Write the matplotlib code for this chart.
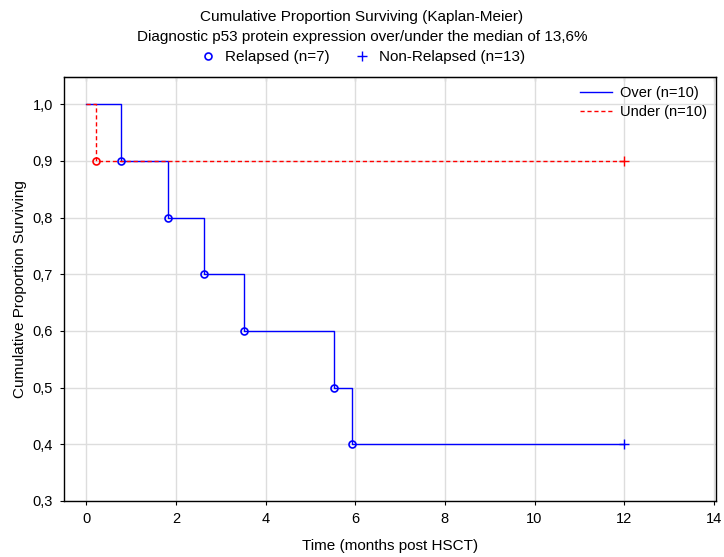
import matplotlib.pyplot as plt
from matplotlib.lines import Line2D
from matplotlib.ticker import FuncFormatter

plt.rcParams["font.family"] = ["Liberation Sans", "DejaVu Sans"]

# Kaplan-Meier step data
over_t = [0, 0.78, 1.83, 2.63, 3.52, 5.52, 5.92, 12.0]
over_s = [1.0, 0.9, 0.8, 0.7, 0.6, 0.5, 0.4, 0.4]
over_event_t = [0.78, 1.83, 2.63, 3.52, 5.52, 5.92]
over_event_s = [0.9, 0.8, 0.7, 0.6, 0.5, 0.4]
over_cens_t = [12.0]
over_cens_s = [0.4]

under_t = [0, 0.22, 12.0]
under_s = [1.0, 0.9, 0.9]
under_event_t = [0.22]
under_event_s = [0.9]
under_cens_t = [12.0]
under_cens_s = [0.9]


def main():
    fig = plt.figure(figsize=(7.24, 5.57), dpi=100)
    ax = fig.add_axes([64 / 724, 1 - 501 / 557, (716 - 64) / 724, (501 - 77) / 557])

    ax.step(over_t, over_s, where="post", color="#0000ff", lw=1, label="Over (n=10)")
    ax.step(under_t, under_s, where="post", color="#ff0000", lw=1,
            ls=(0, (3, 2)), label="Under (n=10)")
    ax.plot(over_event_t, over_event_s, "o", ms=5, mfc="none", mec="#0000ff", mew=1.2)
    ax.plot(under_event_t, under_event_s, "o", ms=5, mfc="none", mec="#ff0000", mew=1.2)
    ax.plot(over_cens_t, over_cens_s, "+", ms=7, color="#0000ff", mew=1)
    ax.plot(under_cens_t, under_cens_s, "+", ms=7, color="#ff0000", mew=1)

    ax.set_xlim(-0.5, 14.05)
    ax.set_ylim(0.3, 1.048)
    ax.set_xticks(range(0, 15, 2))
    ax.set_yticks([0.3, 0.4, 0.5, 0.6, 0.7, 0.8, 0.9, 1.0])
    ax.yaxis.set_major_formatter(FuncFormatter(lambda v, p: f"{v:.1f}".replace(".", ",")))
    ax.grid(True, color="#dddddd", lw=1)
    ax.set_axisbelow(True)
    for s in ax.spines.values():
        s.set_linewidth(1)
    ax.tick_params(labelsize=10.5, length=3, pad=5)

    top = ax.secondary_xaxis("top")
    top.set_xticks(range(0, 15, 2))
    top.tick_params(direction="in", length=3, labeltop=False)

    ax.set_xlabel("Time (months post HSCT)", fontsize=11, labelpad=9)
    ax.set_ylabel("Cumulative Proportion Surviving", fontsize=11, labelpad=4)

    ax.legend(loc="upper right", frameon=False, fontsize=10.5, handlelength=2.2,
              borderaxespad=0.25, labelspacing=0.3, handletextpad=0.5)

    fig.text(0.5, 1 - 17 / 557, "Cumulative Proportion Surviving (Kaplan-Meier)",
             ha="center", va="center", fontsize=11)
    fig.text(0.5, 1 - 37 / 557, "Diagnostic p53 protein expression over/under the median of 13,6%",
             ha="center", va="center", fontsize=11)
    handles = [
        Line2D([], [], marker="o", ls="none", mfc="none", mec="#0000ff", ms=5, mew=1.2),
        Line2D([], [], marker="+", ls="none", color="#0000ff", ms=7),
    ]
    fig.legend(handles, ["Relapsed (n=7)", "Non-Relapsed (n=13)"], loc="center",
               bbox_to_anchor=(0.5, 1 - 57 / 557), ncol=2, frameon=False, fontsize=11,
               handlelength=1.2, columnspacing=1.5, handletextpad=0.5)

    fig.savefig("out.png", dpi=100)


if __name__ == "__main__":
    main()
